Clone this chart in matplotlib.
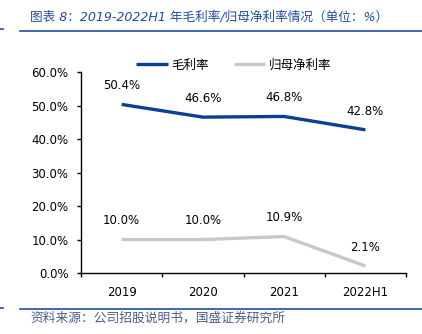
import matplotlib
matplotlib.use('Agg')
import matplotlib.pyplot as plt
from matplotlib.lines import Line2D

plt.rcParams['font.family'] = ['DejaVu Sans', 'Noto Sans CJK SC']

# ── data ─────────────────────────────────────────────
years = ['2019', '2020', '2021', '2022H1']
gross_margin = [50.4, 46.6, 46.8, 42.8]
net_margin = [10.0, 10.0, 10.9, 2.1]
yticks = [0, 10, 20, 30, 40, 50, 60]

title = '图表 8：2019-2022H1 年毛利率/归母净利率情况（单位：%）'
source = '资料来源：公司招股说明书，国盛证券研究所'

blue = '#0B3F94'
grey = '#C8C8C8'
head_blue = '#1F4E9E'
W, H = 422, 334

fig = plt.figure(figsize=(W / 100, H / 100), dpi=100)

# header / footer
fig.text(30 / W, 1 - 17.5 / H, title, fontsize=9.1, color=head_blue, style='italic',
         family=['DejaVu Sans', 'Noto Sans CJK SC'], va='center', ha='left')
fig.add_artist(Line2D([20 / W, 1], [1 - 30.7 / H] * 2, color=head_blue, lw=1.2))
fig.add_artist(Line2D([0, 3 / W], [1 - 29 / H] * 2, color=head_blue, lw=1.2))
fig.add_artist(Line2D([20 / W, 1], [1 - 309.3 / H] * 2, color=head_blue, lw=1.2))
fig.add_artist(Line2D([0, 3 / W], [1 - 308 / H] * 2, color=head_blue, lw=1.2))
fig.text(30 / W, 1 - 318.5 / H, source, fontsize=9.2, color='#4A5E8A', style='italic',
         family=['Noto Sans CJK SC'], va='center', ha='left')

# ── plot ─────────────────────────────────────────────
ax = fig.add_axes([81 / W, 61 / H, 325 / W, 200.7 / H])
x = range(len(years))
ax.plot(x, gross_margin, color=blue, lw=2.4, label='毛利率', solid_capstyle='butt')
ax.plot(x, net_margin, color=grey, lw=2.4, label='归母净利率', solid_capstyle='butt')

for xi, v in zip(x, gross_margin):
    ax.annotate(f'{v:.1f}%', (xi, v), xytext=(0, 13.5), textcoords='offset points',
                ha='center', va='center', fontsize=8.5)
for xi, v in zip(x, net_margin):
    ax.annotate(f'{v:.1f}%', (xi, v), xytext=(0, 13.5), textcoords='offset points',
                ha='center', va='center', fontsize=8.5)

ax.set_xlim(-0.5, len(years) - 0.5)
ax.set_ylim(0, 60)
ax.set_yticks(yticks)
ax.set_yticklabels([f'{t:.1f}%' for t in yticks], fontsize=8.5)
ax.set_xticks([i - 0.5 for i in range(len(years) + 1)])
ax.set_xticklabels([])
ax.set_xticks(list(x), minor=True)
ax.set_xticklabels(years, minor=True, fontsize=8.5)
ax.tick_params(axis='x', which='major', direction='out', length=3, width=1)
ax.tick_params(axis='x', which='minor', length=0, pad=9)
ax.tick_params(axis='y', direction='out', length=3, width=1, pad=6)
for s in ['top', 'right']:
    ax.spines[s].set_visible(False)
for s in ['left', 'bottom']:
    ax.spines[s].set_color('black')
    ax.spines[s].set_linewidth(1)

ax.legend(loc='center', bbox_to_anchor=(0.47, 1.035), ncol=2, frameon=False,
          handlelength=2.5, columnspacing=2.0, handletextpad=0.3,
          prop={'family': ['Noto Sans CJK SC'], 'size': 9})

fig.savefig('out.png', dpi=100)
